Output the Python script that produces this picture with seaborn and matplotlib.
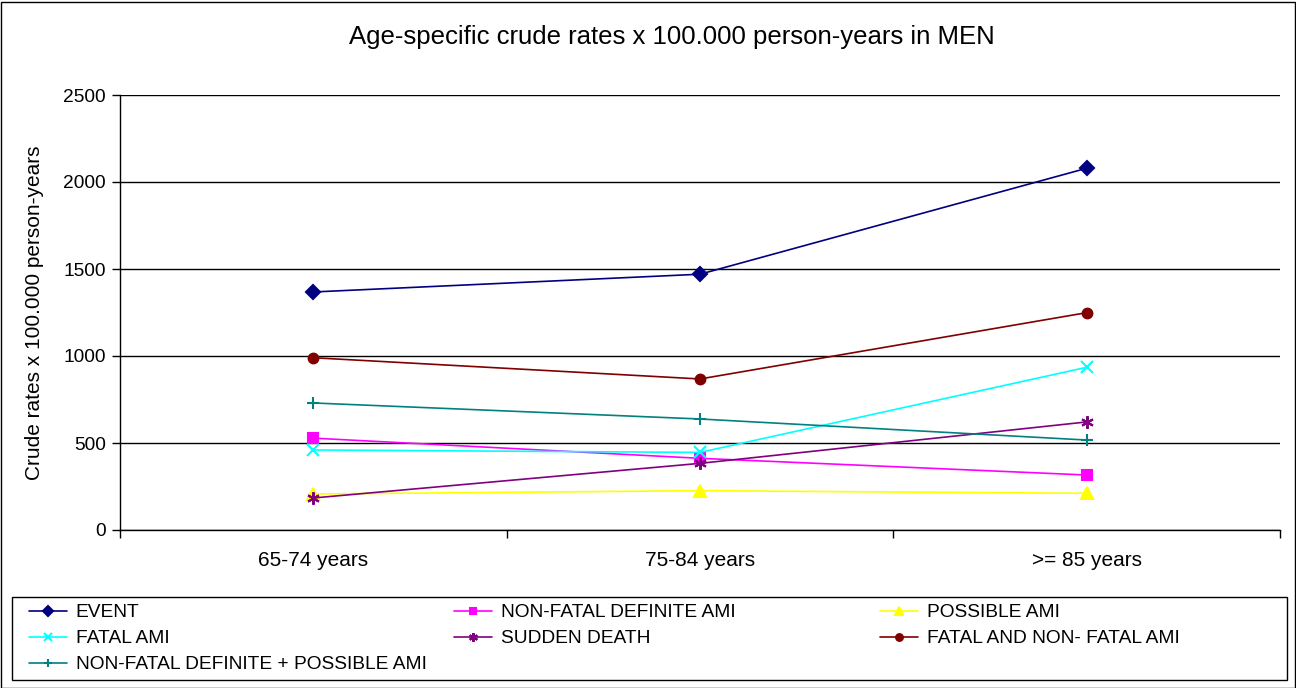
import matplotlib.pyplot as plt
import pandas as pd
import seaborn as sns
from matplotlib.patches import Rectangle

sns.set_theme(style="ticks")
plt.rcParams['font.family'] = ['Liberation Sans', 'DejaVu Sans']
plt.rcParams['text.color'] = 'black'
plt.rcParams['axes.labelcolor'] = 'black'
plt.rcParams['xtick.color'] = 'black'
plt.rcParams['ytick.color'] = 'black'

age_groups = ['65-74 years', '75-84 years', '>= 85 years']

event = [1368, 1470, 2079]
non_fatal_definite = [528, 412, 316]
possible_ami = [207, 226, 211]
fatal_ami = [460, 446, 935]
sudden_death = [184, 383, 621]
fatal_and_non_fatal = [990, 868, 1249]
non_fatal_plus_possible = [730, 638, 517]

series = {
    'EVENT': event,
    'NON-FATAL DEFINITE AMI': non_fatal_definite,
    'POSSIBLE AMI': possible_ami,
    'FATAL AMI': fatal_ami,
    'SUDDEN DEATH': sudden_death,
    'FATAL AND NON- FATAL AMI': fatal_and_non_fatal,
    'NON-FATAL DEFINITE + POSSIBLE AMI': non_fatal_plus_possible,
}

styles = {
    'EVENT': ('#000080', 'D', 7),
    'NON-FATAL DEFINITE AMI': ('#FF00FF', 's', 7),
    'POSSIBLE AMI': ('#FFFF00', '^', 8),
    'FATAL AMI': ('#00FFFF', 'x', 8),
    'SUDDEN DEATH': ('#800080', (6, 2, 0), 9),
    'FATAL AND NON- FATAL AMI': ('#800000', 'o', 7),
    'NON-FATAL DEFINITE + POSSIBLE AMI': ('#008080', '+', 9),
}

df = pd.DataFrame([
    {'age': age, 'rate': v, 'series': name}
    for name, vals in series.items() for age, v in zip(age_groups, vals)
])
df['pos'] = df['age'].map({a: i for i, a in enumerate(age_groups)})

fig = plt.figure(figsize=(12.96, 6.88), dpi=100)
ax = fig.add_axes([120 / 1296, 1 - 530 / 688, 1160 / 1296, 435 / 688])

handles = {}
for name in series:
    color, marker, ms = styles[name]
    sub = df[df['series'] == name]
    sns.lineplot(data=sub, x='pos', y='rate', ax=ax, color=color, marker=marker,
                 markersize=ms, markeredgecolor=color, markerfacecolor=color,
                 markeredgewidth=1.5, linewidth=1.2, legend=False)
    handles[name] = ax.lines[-1]

ax.set_xlim(-0.5, 2.5)
ax.set_ylim(0, 2500)
ax.set_yticks(range(0, 2501, 500))
ax.set_xticks([0, 1, 2])
ax.set_xticklabels(age_groups)
ax.set_xticks([-0.5, 0.5, 1.5, 2.5], minor=True)
ax.tick_params(axis='x', which='major', length=0, pad=15, labelsize=15)
ax.tick_params(axis='x', which='minor', length=6, width=1, direction='out')
ax.tick_params(axis='y', length=6, width=1, labelsize=13.8, pad=4)
ax.set_xlabel('')
ax.set_ylabel('Crude rates x 100.000 person-years', fontsize=15, labelpad=14)
ax.yaxis.grid(True, color='black', linewidth=1)
ax.set_axisbelow(True)
for side in ['top', 'right']:
    ax.spines[side].set_visible(False)
for side in ['left', 'bottom']:
    ax.spines[side].set_color('black')
    ax.spines[side].set_linewidth(1)

fig.text(672 / 1296, 1 - 37 / 688, 'Age-specific crude rates x 100.000 person-years in MEN',
         ha='center', va='center', fontsize=18.5)

# legend: three columns, row-major order, inside a plain frame
columns = [
    ['EVENT', 'FATAL AMI', 'NON-FATAL DEFINITE + POSSIBLE AMI'],
    ['NON-FATAL DEFINITE AMI', 'SUDDEN DEATH'],
    ['POSSIBLE AMI', 'FATAL AND NON- FATAL AMI'],
]
col_x = [25, 450, 876]
for x, names in zip(col_x, columns):
    fig.legend([handles[n] for n in names], names, loc='upper left',
               bbox_to_anchor=(x / 1296, 1 - 600 / 688), frameon=False,
               fontsize=13.8, handlelength=2.0, handletextpad=0.45,
               labelspacing=0.45, borderpad=0.2, borderaxespad=0,
               markerscale=0.7)

fig.patches.append(Rectangle((12 / 1296, 1 - 680 / 688), 1275 / 1296, 83 / 688,
                             transform=fig.transFigure, fill=False,
                             edgecolor='black', linewidth=1))
fig.patches.append(Rectangle((0.5 / 1296, 0.5 / 688), 1294 / 1296, 686 / 688,
                             transform=fig.transFigure, fill=False,
                             edgecolor='black', linewidth=1))

fig.savefig('out.png', dpi=100, facecolor='white')
